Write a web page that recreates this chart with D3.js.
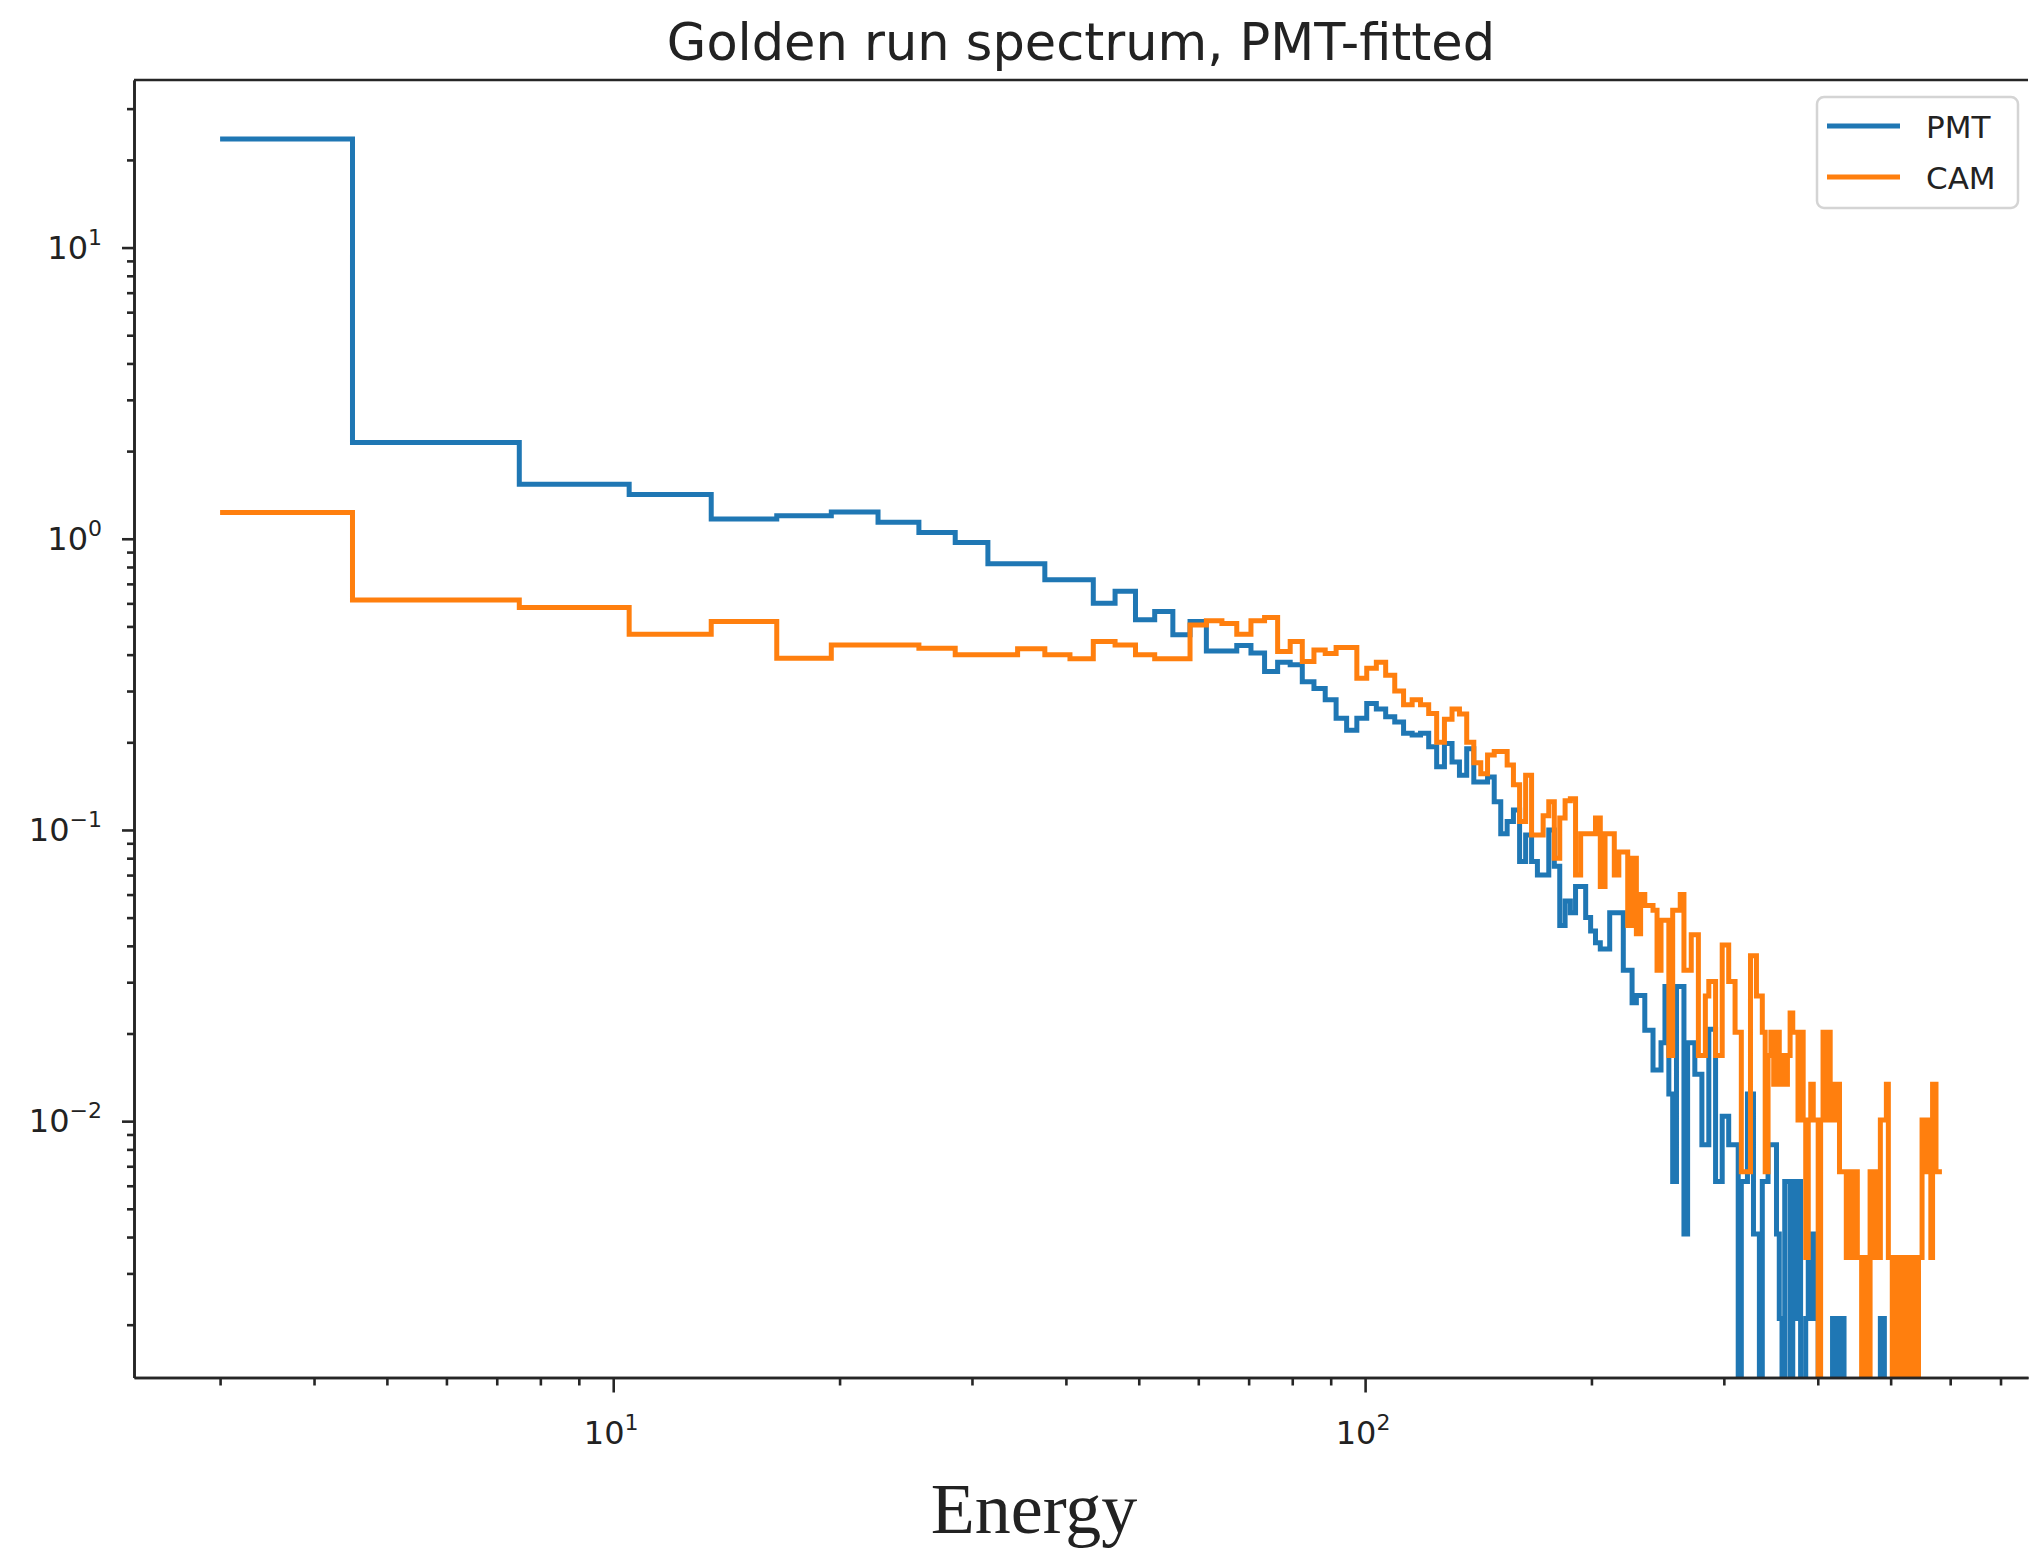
<!DOCTYPE html>
<html>
<head>
<meta charset="utf-8">
<script src="https://cdn.jsdelivr.net/npm/d3@7"></script>
<style>
  body { margin: 0; background: #fff; }
  svg { display: block; }
  text { font-family: "DejaVu Sans", sans-serif; fill: #222; }
</style>
</head>
<body>
<script>
(function () {
	"use strict";

	var W = 2030, H = 1548;
	var plot = {left: 134, right: 2028, top: 80, bottom: 1377.5};

	// bin centres (energy) shared by both spectra
	var energy = [
		3, 6, 9, 12, 15, 18, 21, 24, 27, 30, 33, 36, 39, 42, 45,
		48, 51, 54, 57, 60, 63, 66, 69, 72, 75, 78, 81, 84, 87, 90,
		93, 96, 99, 102, 105, 108, 111, 114, 117, 120, 123, 126, 129, 132, 135,
		138, 141, 144, 147, 150, 153, 156, 159, 162, 165, 168, 171, 174, 177, 180,
		183, 186, 189, 192, 195, 198, 201, 204, 207, 210, 213, 216, 219, 222, 225,
		228, 231, 234, 237, 240, 243, 246, 249, 252, 255, 258, 261, 264, 267, 270,
		273, 276, 279, 282, 285, 288, 291, 294, 297, 300, 303, 306, 309, 312, 315,
		318, 321, 324, 327, 330, 333, 336, 339, 342, 345, 348, 351, 354, 357, 360,
		363, 366, 369, 372, 375, 378, 381, 384, 387, 390, 393, 396, 399, 402, 405,
		408, 411, 414, 417, 420, 423, 426, 429, 432, 435, 438, 441, 444, 447, 450,
		453, 456, 459, 462, 465, 468, 471, 474, 477, 480, 483, 486, 489, 492, 495,
		498, 501, 504, 507, 510, 513, 516, 519, 522, 525, 528, 531, 534, 537, 540,
		543, 546, 549, 552, 555, 558, 561, 564, 567, 570, 573, 576, 579, 582, 585
	];

	var pmt = [
		23.6, 2.14, 1.54, 1.42, 1.17, 1.20, 1.235, 1.14, 1.05, 0.97, 0.82, 0.82, 0.723, 0.723, 0.60,
		0.66, 0.527, 0.563, 0.468, 0.52, 0.412, 0.412, 0.43, 0.405, 0.35, 0.377, 0.369, 0.323, 0.306, 0.28,
		0.242, 0.22, 0.242, 0.272, 0.26, 0.245, 0.235, 0.215, 0.212, 0.215, 0.193, 0.165, 0.198, 0.171, 0.154,
		0.19, 0.146, 0.146, 0.152, 0.125, 0.097, 0.107, 0.117, 0.078, 0.096, 0.078, 0.07, 0.07, 0.10, 0.075,
		0.047, 0.057, 0.052, 0.064, 0.064, 0.05, 0.045, 0.041, 0.039, 0.039, 0.052, 0.052, 0.052, 0.033, 0.033,
		0.0255, 0.027, 0.027, 0.0205, 0.0205, 0.015, 0.015, 0.0186, 0.029, 0.0124, 0.0062, 0.029, 0.029, 0.0041, 0.0186,
		0.0186, 0.0145, 0.0145, 0.0083, 0.0083, 0.0207, 0.0207, 0.0062, 0.0062, 0.0104, 0.0104, 0.0083, 0.0083, 0.0083, 0,
		0.0062, 0.0062, 0.0124, 0.0124, 0.0041, 0.0041, 0, 0.0062, 0.0062, 0.0083, 0.0083, 0.0083, 0.0041, 0.0021, 0,
		0.0062, 0.0062, 0, 0.0062, 0.0021, 0.0062, 0, 0, 0.0021, 0.0041, 0.0041, 0.0021, 0.0041, 0, 0,
		0, 0, 0, 0, 0.0021, 0.0021, 0, 0.0021, 0.0021, 0, 0, 0, 0, 0, 0,
		0, 0, 0, 0, 0, 0, 0, 0, 0, 0, 0, 0.0021, 0.0021, 0, 0,
		0, 0, 0, 0, 0, 0, 0, 0, 0, 0, 0, 0, 0, 0, 0,
		0, 0, 0, 0, 0, 0, 0, 0, 0, 0, 0, 0, 0, 0, 0
	];

	var cam = [
		1.23, 0.616, 0.581, 0.47, 0.52, 0.389, 0.432, 0.432, 0.421, 0.40, 0.40, 0.419, 0.40, 0.387, 0.444,
		0.432, 0.40, 0.387, 0.387, 0.506, 0.523, 0.512, 0.47, 0.523, 0.537, 0.41, 0.444, 0.379, 0.415, 0.404,
		0.423, 0.423, 0.332, 0.359, 0.377, 0.34, 0.30, 0.269, 0.28, 0.269, 0.251, 0.20, 0.24, 0.26, 0.25,
		0.20, 0.17, 0.156, 0.181, 0.186, 0.186, 0.167, 0.143, 0.107, 0.154, 0.096, 0.096, 0.112, 0.125, 0.08,
		0.11, 0.126, 0.128, 0.07, 0.097, 0.097, 0.097, 0.11, 0.064, 0.097, 0.097, 0.07, 0.084, 0.084, 0.047,
		0.08, 0.044, 0.06, 0.055, 0.055, 0.053, 0.033, 0.049, 0.049, 0.0168, 0.053, 0.053, 0.060, 0.033, 0.033,
		0.0437, 0.0437, 0.0168, 0.0168, 0.0269, 0.0302, 0.0302, 0.0168, 0.0168, 0.0403, 0.0403, 0.0302, 0.0302, 0.0202, 0.0202,
		0.0067, 0.0067, 0.0067, 0.037, 0.037, 0.0269, 0.0269, 0.0202, 0.0067, 0.0168, 0.0202, 0.0134, 0.0202, 0.0134, 0.0168,
		0.0134, 0.0168, 0.0235, 0.0202, 0.0202, 0.0101, 0.0202, 0.0101, 0.0034, 0.0101, 0.0134, 0.0101, 0.0101, 0, 0.0101,
		0.0202, 0.0101, 0.0202, 0.0101, 0.0134, 0.0101, 0.0134, 0.0067, 0.0067, 0.0067, 0.0034, 0.0067, 0.0034, 0.0067, 0.0067,
		0.0034, 0.0034, 0, 0.0034, 0.0034, 0, 0.0067, 0.0067, 0.0034, 0.0067, 0.0034, 0.0101, 0.0101, 0.0101, 0.0134,
		0.0034, 0.0034, 0, 0.0034, 0.0034, 0, 0.0034, 0, 0.0034, 0.0034, 0, 0.0034, 0, 0.0034, 0.0034,
		0, 0.0034, 0.0034, 0.0101, 0.0101, 0.0067, 0.0101, 0.0067, 0.0034, 0.0134, 0.0134, 0.0067, 0.0067, 0.0067, 0.0067
	];

	var seriesNames = ["PMT", "CAM"];
	var seriesColors = ["#1f77b4", "#ff7f0e"];
	var xMajor = [10, 100];
	var yMajor = [0.01, 0.1, 1, 10];
	var minorMult = [2, 3, 4, 5, 6, 7, 8, 9];

	// matplotlib-like 5% margins in log space
	function logDomain(ext) {
		var a = Math.log10(ext[0]), b = Math.log10(ext[1]);
		var pad = (b - a) * 0.05;
		return [Math.pow(10, a - pad), Math.pow(10, b + pad)];
	}

	var positives = pmt.concat(cam).filter((v) => v > 0);

	var xScale = d3.scaleLog()
		.domain(logDomain(d3.extent(energy)))
		.range([plot.left, plot.right]);

	var yScale = d3.scaleLog()
		.domain(logDomain(d3.extent(positives)))
		.range([plot.bottom, plot.top]);

	var svg = d3.select("body")
		.append("svg")
		.attr("width", W)
		.attr("height", H);

	svg.append("defs").append("clipPath")
		.attr("id", "plotclip")
		.append("rect")
		.attr("x", plot.left)
		.attr("y", plot.top)
		.attr("width", plot.right - plot.left)
		.attr("height", plot.bottom - plot.top);

	// step where='mid': edges halfway between centres in data space
	function stepPoints(vals) {
		var pts = [];
		var floor = yScale.domain()[0] / 1000;
		energy.forEach(function (e, i) {
			var lo = i === 0 ? e : (energy[i - 1] + e) / 2;
			var hi = i === energy.length - 1 ? e : (e + energy[i + 1]) / 2;
			var v = vals[i] > 0 ? vals[i] : floor;
			pts.push([lo, v], [hi, v]);
		});
		return pts;
	}

	var lineFun = d3.line()
		.x((d) => xScale(d[0]))
		.y((d) => yScale(d[1]));

	var lines = svg.append("g").attr("clip-path", "url(#plotclip)");
	[pmt, cam].forEach(function (vals, i) {
		lines.append("path")
			.attr("d", lineFun(stepPoints(vals)))
			.attr("fill", "none")
			.attr("stroke", seriesColors[i])
			.attr("stroke-width", 5)
			.attr("stroke-linejoin", "miter");
	});

	// minor ticks
	function minorIn(decades, dom) {
		var out = [];
		decades.forEach(function (dec) {
			minorMult.forEach(function (m) {
				var v = m * dec;
				if (v >= dom[0] && v <= dom[1]) out.push(v);
			});
		});
		return out;
	}
	var xMinor = minorIn([1, 10, 100], xScale.domain());
	var yMinor = minorIn([0.001, 0.01, 0.1, 1, 10], yScale.domain());

	function styleAxis(g) {
		g.selectAll("path, line").attr("stroke", "#262626").attr("stroke-width", 2.6);
		g.selectAll("text").remove();
	}

	svg.append("g")
		.attr("transform", "translate(0," + plot.bottom + ")")
		.call(d3.axisBottom(xScale).tickValues(xMinor).tickSize(8).tickSizeOuter(0))
		.call(styleAxis);
	svg.append("g")
		.attr("transform", "translate(0," + plot.bottom + ")")
		.call(d3.axisBottom(xScale).tickValues(xMajor).tickSize(15).tickSizeOuter(0))
		.call(styleAxis);
	svg.append("g")
		.attr("transform", "translate(" + plot.left + ",0)")
		.call(d3.axisLeft(yScale).tickValues(yMinor).tickSize(7).tickSizeOuter(0))
		.call(styleAxis);
	svg.append("g")
		.attr("transform", "translate(" + plot.left + ",0)")
		.call(d3.axisLeft(yScale).tickValues(yMajor).tickSize(12).tickSizeOuter(0))
		.call(styleAxis);

	// top spine
	svg.append("line")
		.attr("x1", plot.left).attr("x2", plot.right)
		.attr("y1", plot.top).attr("y2", plot.top)
		.attr("stroke", "#262626").attr("stroke-width", 2.6);

	function expLabel(sel, v) {
		var e = Math.round(Math.log10(v));
		sel.append("tspan").text("10");
		sel.append("tspan")
			.attr("font-size", 22)
			.attr("dy", -14)
			.text(e < 0 ? "\u2212" + (-e) : String(e));
	}

	yMajor.forEach(function (v) {
		svg.append("text")
			.attr("x", 102)
			.attr("y", yScale(v) + 11)
			.attr("text-anchor", "end")
			.attr("font-size", 32)
			.call(expLabel, v);
	});

	xMajor.forEach(function (v) {
		svg.append("text")
			.attr("x", xScale(v) - 2)
			.attr("y", 1444)
			.attr("text-anchor", "middle")
			.attr("font-size", 32)
			.call(expLabel, v);
	});

	svg.append("text")
		.attr("x", 1081)
		.attr("y", 60)
		.attr("text-anchor", "middle")
		.attr("font-size", 51)
		.text("Golden run spectrum, PMT-fitted");

	svg.append("text")
		.attr("x", 1034)
		.attr("y", 1533)
		.attr("text-anchor", "middle")
		.attr("font-size", 72)
		.style("font-family", "'Liberation Serif', serif")
		.text("Energy");

	// legend
	var legend = svg.append("g");
	legend.append("rect")
		.attr("x", 1817).attr("y", 97)
		.attr("width", 201).attr("height", 111)
		.attr("rx", 7)
		.attr("fill", "#fff").attr("fill-opacity", 0.8)
		.attr("stroke", "#d4d4d4").attr("stroke-width", 2.5);
	seriesNames.forEach(function (name, i) {
		var cy = 126 + i * 51;
		legend.append("line")
			.attr("x1", 1827).attr("x2", 1900)
			.attr("y1", cy).attr("y2", cy)
			.attr("stroke", seriesColors[i])
			.attr("stroke-width", 5);
		legend.append("text")
			.attr("x", 1926)
			.attr("y", cy + 12)
			.attr("font-size", 31)
			.text(name);
	});
})();
</script>
</body>
</html>
